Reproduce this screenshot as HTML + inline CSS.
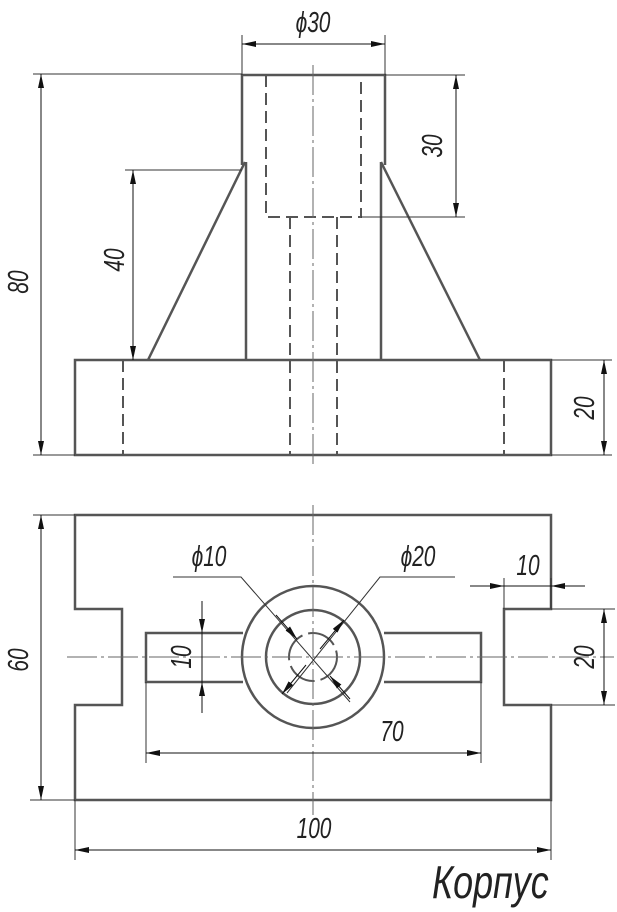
<!DOCTYPE html>
<html><head><meta charset="utf-8"><style>
html,body{margin:0;padding:0;background:#fff}
svg{display:block}
text{font-family:"Liberation Sans","DejaVu Sans",sans-serif;font-style:italic;fill:#222}
</style></head><body>
<svg width="617" height="912" viewBox="0 0 617 912" xmlns="http://www.w3.org/2000/svg">
<defs>
<marker id="a" viewBox="0 0 14 6" refX="14" refY="3" markerWidth="14" markerHeight="6" markerUnits="userSpaceOnUse" orient="auto-start-reverse">
<path d="M0,0 L14,3 L0,6 Z" fill="#111"/></marker>
</defs>
<g stroke="#555" stroke-width="2.5" fill="none">
<polyline points="242,165 242,75 385,75 385,165"/>
<line x1="246" y1="162" x2="246" y2="360"/>
<line x1="381" y1="162" x2="381" y2="360"/>
<line x1="245" y1="162" x2="148" y2="360"/>
<line x1="381" y1="162" x2="480" y2="360"/>
<rect x="75" y="360" width="476" height="95"/>
<polygon points="75,515 551,515 551,609 504,609 504,705 551,705 551,800 75,800 75,705 122,705 122,609 75,609"/>
<polyline points="243,633 146,633 146,682 243,682"/>
<polyline points="384,633 481,633 481,682 384,682"/>
<circle cx="313" cy="657" r="71"/>
<circle cx="313" cy="657" r="47"/>
</g>
<g stroke="#555" stroke-width="2" fill="none" stroke-dasharray="12,6">
<polyline points="266,75 266,217 361,217 361,75"/>
<line x1="290" y1="217" x2="290" y2="455"/>
<line x1="337" y1="217" x2="337" y2="455"/>
<line x1="123" y1="360" x2="123" y2="455"/>
<line x1="504" y1="360" x2="504" y2="455"/>
<circle cx="313" cy="657" r="24" stroke-dasharray="30,6"/>
</g>
<g stroke="#666" stroke-width="1" fill="none" stroke-dasharray="30,4,3,4">
<line x1="313" y1="65" x2="313" y2="468"/>
<line x1="313" y1="505" x2="313" y2="815"/>
<line x1="67" y1="657" x2="614" y2="657"/>
</g>
<g stroke="#333" stroke-width="1" fill="none">
<line x1="242" y1="35" x2="242" y2="75"/><line x1="385" y1="35" x2="385" y2="75"/>
<line x1="33" y1="74" x2="242" y2="74"/><line x1="33" y1="455" x2="75" y2="455"/>
<line x1="385" y1="75" x2="465" y2="75"/><line x1="361" y1="217" x2="465" y2="217"/>
<line x1="125" y1="170" x2="242" y2="170"/>
<line x1="551" y1="360" x2="612" y2="360"/><line x1="551" y1="455" x2="612" y2="455"/>
<line x1="33" y1="515" x2="75" y2="515"/><line x1="30" y1="800" x2="75" y2="800"/>
<line x1="75" y1="800" x2="75" y2="860"/><line x1="551" y1="800" x2="551" y2="860"/>
<line x1="146" y1="682" x2="146" y2="763"/><line x1="481" y1="682" x2="481" y2="763"/>
<line x1="504" y1="578" x2="504" y2="609"/><line x1="551" y1="578" x2="551" y2="609"/>
<line x1="551" y1="609" x2="615" y2="609"/><line x1="551" y1="705" x2="615" y2="705"/>
<polyline points="173,577 241,577 350,702"/>
<polyline points="455,577 380,577 287,693"/>
</g>
<g stroke="#111" stroke-width="1" fill="none">
<line x1="242" y1="44" x2="385" y2="44" marker-start="url(#a)" marker-end="url(#a)"/>
<line x1="41" y1="74" x2="41" y2="455" marker-start="url(#a)" marker-end="url(#a)"/>
<line x1="456" y1="75" x2="456" y2="217" marker-start="url(#a)" marker-end="url(#a)"/>
<line x1="133" y1="170" x2="133" y2="360" marker-start="url(#a)" marker-end="url(#a)"/>
<line x1="604" y1="360" x2="604" y2="455" marker-start="url(#a)" marker-end="url(#a)"/>
<line x1="41" y1="515" x2="41" y2="800" marker-start="url(#a)" marker-end="url(#a)"/>
<line x1="75" y1="850" x2="551" y2="850" marker-start="url(#a)" marker-end="url(#a)"/>
<line x1="146" y1="753" x2="481" y2="753" marker-start="url(#a)" marker-end="url(#a)"/>
<line x1="604" y1="609" x2="604" y2="705" marker-start="url(#a)" marker-end="url(#a)"/>
<line x1="202" y1="601" x2="202" y2="633" marker-end="url(#a)"/>
<line x1="202" y1="713" x2="202" y2="682" marker-end="url(#a)"/>
<line x1="202" y1="633" x2="202" y2="682"/>
<line x1="470" y1="586" x2="504" y2="586" marker-end="url(#a)"/>
<line x1="585" y1="586" x2="551" y2="586" marker-end="url(#a)"/>
<line x1="504" y1="586" x2="551" y2="586"/>
<line x1="276" y1="615" x2="297" y2="639" marker-end="url(#a)"/>
<line x1="350" y1="699" x2="330" y2="676" marker-end="url(#a)"/>
<line x1="320" y1="649" x2="344" y2="620" marker-end="url(#a)"/>
<line x1="306" y1="665" x2="282" y2="694" marker-end="url(#a)"/>
</g>
<g font-size="29" text-anchor="middle">
<text transform="translate(313,32) scale(0.72,1)">ϕ30</text>
<text transform="translate(442,146) rotate(-90) scale(0.72,1)">30</text>
<text transform="translate(124,260) rotate(-90) scale(0.72,1)">40</text>
<text transform="translate(28,282) rotate(-90) scale(0.72,1)">80</text>
<text transform="translate(594,408) rotate(-90) scale(0.72,1)">20</text>
<text transform="translate(28,660) rotate(-90) scale(0.72,1)">60</text>
<text transform="translate(594,657) rotate(-90) scale(0.72,1)">20</text>
<text transform="translate(191,657) rotate(-90) scale(0.72,1)">10</text>
<text transform="translate(209,566) scale(0.72,1)">ϕ10</text>
<text transform="translate(418,566) scale(0.72,1)">ϕ20</text>
<text transform="translate(528,575) scale(0.72,1)">10</text>
<text transform="translate(392,741) scale(0.72,1)">70</text>
<text transform="translate(314,838) scale(0.72,1)">100</text>
</g>
<text font-size="46" transform="translate(432,898) scale(0.78,1)">Корпус</text>
</svg>
</body></html>
